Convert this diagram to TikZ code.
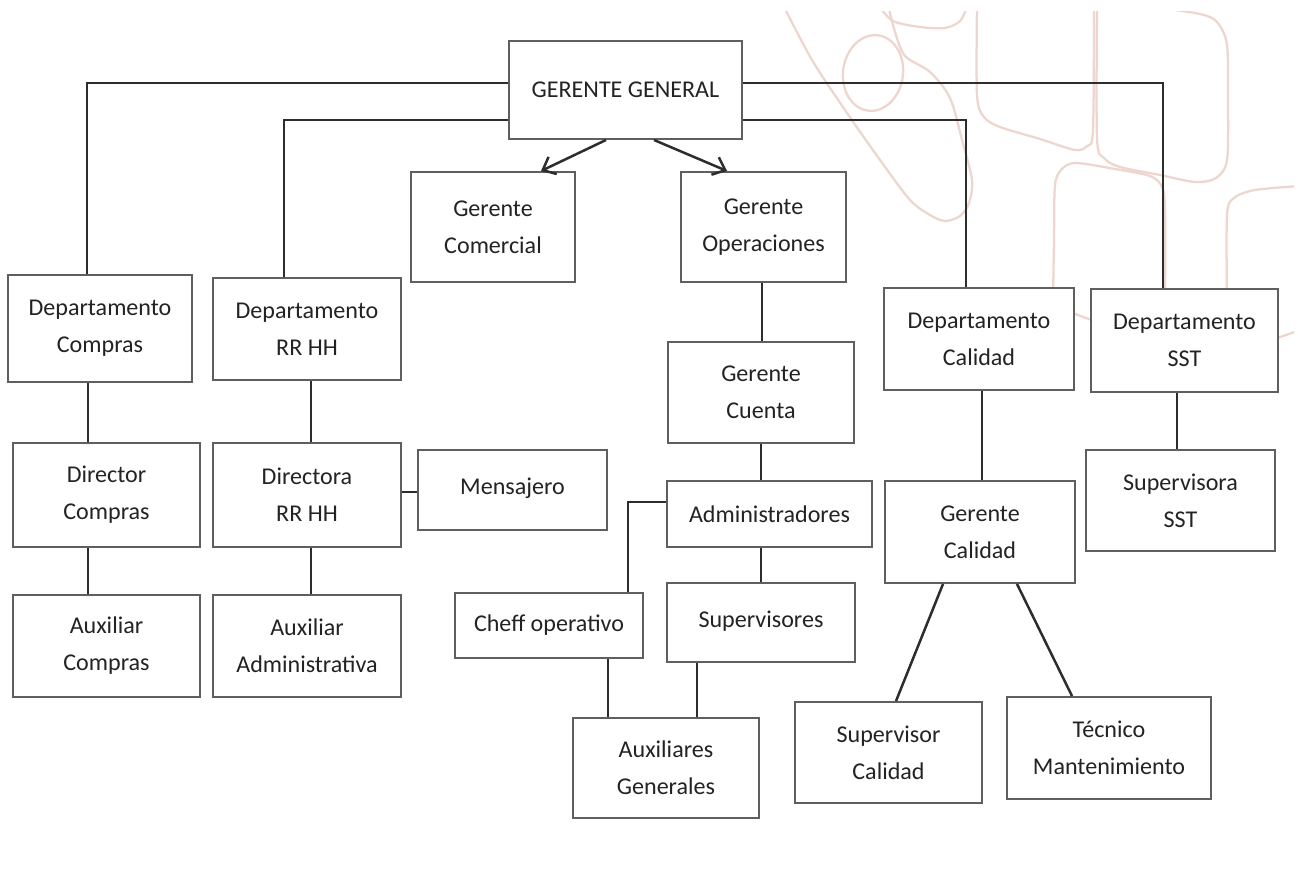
\documentclass[tikz,border=0pt]{standalone}
\usepackage{fontspec}
\setmainfont{Carlito}
\usetikzlibrary{arrows.meta,backgrounds}
\definecolor{txt}{RGB}{35,35,35}
\definecolor{boxline}{RGB}{95,95,95}
\definecolor{conline}{RGB}{45,45,45}
\definecolor{wmark}{RGB}{237,214,206}
\begin{document}
\begin{tikzpicture}[x=0.02cm,y=-0.02cm,
  box/.style={draw=boxline,line width=0.04cm,fill=white,align=center,inner sep=0pt,
    text=txt,font=\fontsize{13.7}{21}\selectfont},
  conn/.style={draw=conline,line width=0.05cm},
  arr/.style={conn,-{Straight Barb[length=0.22cm,width=0.38cm]}},
  wm/.style={draw=wmark,line width=0.045cm,line join=round}]
\useasboundingbox (0,0) rectangle (1298,884);

% nodes
\node[box,minimum width=4.66cm,minimum height=1.96cm] (gg) at (625.5,90) {GERENTE GENERAL};
\node[box,minimum width=3.28cm,minimum height=2.2cm] (com) at (493,227) {Gerente\\Comercial};
\node[box,minimum width=3.3cm,minimum height=2.2cm] (ope) at (763.5,227) {Gerente\\Operaciones};
\node[box,minimum width=3.68cm,minimum height=2.14cm] (dcom) at (100,328.5) {Departamento\\Compras};
\node[box,minimum width=3.76cm,minimum height=2.04cm] (drh) at (307,329) {Departamento\\RR HH};
\node[box,minimum width=3.8cm,minimum height=2.04cm] (dcal) at (979,339) {Departamento\\Calidad};
\node[box,minimum width=3.74cm,minimum height=2.06cm] (dsst) at (1184.5,340.5) {Departamento\\SST};
\node[box,minimum width=3.72cm,minimum height=2.02cm] (gcu) at (761,392.5) {Gerente\\Cuenta};
\node[box,minimum width=3.74cm,minimum height=2.08cm] (dirc) at (106.5,495) {Director\\Compras};
\node[box,minimum width=3.76cm,minimum height=2.08cm] (dirrh) at (307,495) {Directora\\RR HH};
\node[box,minimum width=3.78cm,minimum height=1.6cm] (men) at (512.5,490) {\raisebox{0.14cm}{Mensajero}};
\node[box,minimum width=4.1cm,minimum height=1.32cm] (adm) at (769.5,514) {Administradores};
\node[box,minimum width=3.8cm,minimum height=2.04cm] (gcal) at (980,532) {Gerente\\Calidad};
\node[box,minimum width=3.78cm,minimum height=2.02cm] (ssst) at (1180.5,500.5) {Supervisora\\SST};
\node[box,minimum width=3.76cm,minimum height=1.3cm] (cheff) at (549,625.5) {Cheff operativo};
\node[box,minimum width=3.76cm,minimum height=1.58cm] (sups) at (761,622.5) {\raisebox{0.14cm}{Supervisores}};
\node[box,minimum width=3.74cm,minimum height=2.04cm] (auxc) at (106.5,646) {Auxiliar\\Compras};
\node[box,minimum width=3.76cm,minimum height=2.04cm] (auxa) at (307,646) {Auxiliar\\Administrativa};
\node[box,minimum width=3.72cm,minimum height=2.0cm] (auxg) at (666,768) {Auxiliares\\Generales};
\node[box,minimum width=3.74cm,minimum height=2.02cm] (supc) at (888.5,752.5) {Supervisor\\Calidad};
\node[box,minimum width=4.08cm,minimum height=2.04cm] (tec) at (1109,748) {Técnico\\Mantenimiento};

% connectors
\draw[conn] ([yshift=0.14cm]gg.west) -| (dcom.north -| 87,0);
\draw[conn] ([yshift=-0.6cm]gg.west) -| (drh.north -| 284,0);
\draw[conn] ([yshift=0.14cm]gg.east) -| (dsst.north -| 1163,0);
\draw[conn] ([yshift=-0.6cm]gg.east) -| (dcal.north -| 966,0);
\draw[arr] (gg.south -| 606,0) -- (com.north -| 541,0);
\draw[arr] (gg.south -| 654,0) -- (ope.north -| 727,0);
\draw[conn] (ope.south -| 762,0) -- (gcu.north -| 762,0);
\draw[conn] (gcu.south -| 761,0) -- (adm.north -| 761,0);
\draw[conn] (adm.south -| 761,0) -- (sups.north -| 761,0);
\draw[conn] (adm.west |- 0,502) -| (cheff.north -| 628,0);
\draw[conn] (cheff.south -| 608,0) -- (auxg.north -| 608,0);
\draw[conn] (sups.south -| 697,0) -- (auxg.north -| 697,0);
\draw[conn] (dcom.south -| 88,0) -- (dirc.north -| 88,0);
\draw[conn] (dirc.south -| 88,0) -- (auxc.north -| 88,0);
\draw[conn] (drh.south -| 311,0) -- (dirrh.north -| 311,0);
\draw[conn] (dirrh.south -| 311,0) -- (auxa.north -| 311,0);
\draw[conn] (dirrh.east |- 0,492) -- (men.west |- 0,492);
\draw[conn] (dcal.south -| 982,0) -- (gcal.north -| 982,0);
\draw[conn] (gcal.south -| 943,0) -- (supc.north -| 896,0);
\draw[conn] (gcal.south -| 1017,0) -- (tec.north -| 1072,0);
\draw[conn] (dsst.south -| 1177,0) -- (ssst.north -| 1177,0);

% watermark
\begin{pgfonlayer}{background}
\fill[white] (0,0) rectangle (1298,884);
\begin{scope}
\clip (700,12) rectangle (1294,884);
\draw[wm] plot[smooth] coordinates {(783,5) (812,60) (845,110) (880,160) (910,200) (930,215) (945,221) (960,216) (969,203) (972,180) (962,140) (950,98) (930,72) (905,56) (895,32) (888,5)};
\draw[wm,rotate around={-8:(873,73)}] (873,73) ellipse [x radius=30,y radius=38];
\draw[wm] plot[smooth] coordinates {(878,5) (893,21) (920,27) (945,28) (960,21) (968,5)};
\draw[wm] plot[smooth] coordinates {(977,5) (977,95) (984,117) (1000,127) (1040,139) (1075,150) (1087,146) (1093,130) (1094,5)};
\draw[wm] plot[smooth] coordinates {(1097,5) (1097,138) (1104,158) (1120,167) (1160,175) (1195,182) (1216,178) (1227,160) (1228,100) (1227,45) (1217,22) (1200,14) (1160,8)};
\draw[wm] plot[smooth] coordinates {(1053,300) (1054,240) (1055,185) (1062,169) (1076,163) (1115,169) (1150,176) (1162,187) (1165,210) (1165,300)};
\draw[wm] plot[smooth] coordinates {(1227,300) (1227,215) (1234,198) (1255,190) (1300,186)};
\draw[wm] plot[smooth] coordinates {(1062,308) (1095,321) (1185,345) (1250,345) (1300,330)};
\end{scope}
\end{pgfonlayer}
\end{tikzpicture}
\end{document}
